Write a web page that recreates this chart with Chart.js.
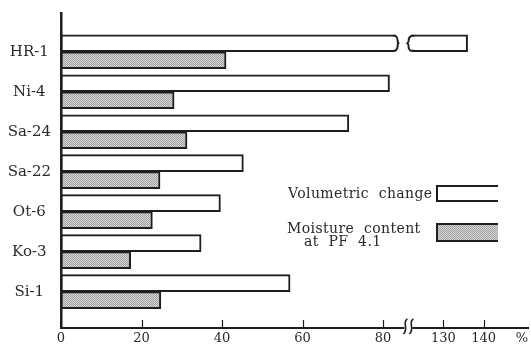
<!DOCTYPE html>
<html>
<head>
<meta charset="utf-8">
<script src="https://cdn.jsdelivr.net/npm/chart.js@4/dist/chart.umd.min.js"></script>
<style>
html, body { margin: 0; background: #fff; }
</style>
</head>
<body>
<canvas id="chart" width="531" height="346"></canvas>
<script>
// data (percent)
const soils = ["HR-1", "Ni-4", "Sa-24", "Sa-22", "Ot-6", "Ko-3", "Si-1"];
const volumetricChange = [136, 81.6, 71.5, 45.3, 39.6, 34.8, 56.9];
const moistureContent = [41, 28.1, 31.3, 24.6, 22.7, 17.3, 24.8];
const tickValues = [0, 20, 40, 60, 80, 130, 140];

// broken x axis: everything above BREAK_FROM is shifted left by BREAK_GAP
const BREAK_FROM = 86;
const BREAK_GAP = 35;
const toAxis = v => (v > BREAK_FROM ? v - BREAK_GAP : v);

const ink = "#1e1e1e";
const textColor = "#2a2a2a";
const serif = "'DejaVu Serif', 'Liberation Serif', serif";

const canvas = document.getElementById("chart");
const ctx = canvas.getContext("2d");

// grey stipple used for moisture bars
function makeStipple() {
    const p = document.createElement("canvas");
    p.width = 2; p.height = 2;
    const g = p.getContext("2d");
    g.fillStyle = "#d4d4d4";
    g.fillRect(0, 0, 2, 2);
    g.fillStyle = "#a4a4a4";
    g.fillRect(0, 0, 1, 1);
    g.fillRect(1, 1, 1, 1);
    return ctx.createPattern(p, "repeat");
}
const stipple = makeStipple();

const decor = {
    id: "decor",
    afterDraw(chart) {
        const c = chart.ctx;
        const xs = chart.scales.x;
        const area = chart.chartArea;
        const axisY = area.bottom;
        c.save();
        c.strokeStyle = ink;
        c.fillStyle = textColor;

        // short tick marks pointing up from the axis
        c.lineWidth = 1.2;
        tickValues.forEach(v => {
            if (v === 0) return;
            const px = Math.round(xs.getPixelForValue(toAxis(v))) + 0.5;
            c.beginPath();
            c.moveTo(px, axisY - 8);
            c.lineTo(px, axisY);
            c.stroke();
        });

        // break in the HR-1 volumetric bar
        const bar = chart.getDatasetMeta(0).data[0];
        const top = bar.y - bar.height / 2 + 1;
        const bot = bar.y + bar.height / 2 - 1;
        const mid = bar.y;
        const bx = xs.getPixelForValue(84.8);
        c.fillStyle = "#fff";
        c.fillRect(bx - 8, top - 2, 18, bot - top + 4);
        c.lineWidth = 2;
        c.beginPath();
        c.moveTo(bx - 9, top);
        c.lineTo(bx - 7, top);
        c.bezierCurveTo(bx - 3, top + 3, bx - 6, mid - 2, bx - 4, mid);
        c.bezierCurveTo(bx - 6, mid + 2, bx - 3, bot - 3, bx - 7, bot);
        c.lineTo(bx - 9, bot);
        c.stroke();
        c.beginPath();
        c.moveTo(bx + 12, top);
        c.lineTo(bx + 9, top);
        c.bezierCurveTo(bx + 4, top + 3, bx + 8, mid - 2, bx + 5, mid);
        c.bezierCurveTo(bx + 8, mid + 2, bx + 4, bot - 3, bx + 8, bot);
        c.lineTo(bx + 12, bot);
        c.stroke();

        // break on the x axis
        const ax = xs.getPixelForValue(86.3);
        c.fillStyle = "#fff";
        c.fillRect(ax - 4, axisY - 3, 8, 6);
        c.lineWidth = 1.6;
        [-3, 3].forEach(dx => {
            const x = ax + dx;
            c.beginPath();
            c.moveTo(x + 2, axisY - 9);
            c.bezierCurveTo(x - 4, axisY - 6, x + 4, axisY + 1, x - 2, axisY + 6);
            c.stroke();
        });

        // unit
        c.fillStyle = textColor;
        c.font = "13px " + serif;
        c.textAlign = "center";
        c.textBaseline = "middle";
        c.fillText("%", 522, 339);

        // legend
        c.textAlign = "left";
        c.textBaseline = "alphabetic";
        c.font = "14px " + serif;
        c.letterSpacing = "0.4px";
        c.fillText("Volumetric  change", 288, 198);
        c.fillText("Moisture  content", 287, 233);
        c.fillText("at  PF  4.1", 304, 246);
        c.letterSpacing = "0px";

        c.lineWidth = 2;
        c.strokeStyle = ink;
        c.beginPath();
        c.moveTo(498, 186);
        c.lineTo(437, 186);
        c.lineTo(437, 201);
        c.lineTo(498, 201);
        c.stroke();

        c.fillStyle = stipple;
        c.fillRect(437, 224, 61, 17);
        c.beginPath();
        c.moveTo(498, 224);
        c.lineTo(437, 224);
        c.lineTo(437, 241);
        c.lineTo(498, 241);
        c.stroke();
        c.restore();
    }
};

new Chart(ctx, {
    type: "bar",
    data: {
        datasets: [
            {
                label: "Volumetric change",
                data: soils.map((s, i) => ({ x: toAxis(volumetricChange[i]), y: i })),
                backgroundColor: "#fff",
                borderColor: ink,
                borderWidth: 2,
                borderSkipped: false,
                barThickness: 17
            },
            {
                label: "Moisture content at PF 4.1",
                data: soils.map((s, i) => ({ x: toAxis(moistureContent[i]), y: i })),
                backgroundColor: stipple,
                borderColor: ink,
                borderWidth: 2,
                borderSkipped: false,
                barThickness: 17
            }
        ]
    },
    options: {
        indexAxis: "y",
        responsive: false,
        animation: false,
        layout: { padding: { top: 13, right: 3, left: 0, bottom: 0 } },
        plugins: { legend: { display: false }, tooltip: { enabled: false } },
        scales: {
            x: {
                type: "linear",
                min: 0,
                max: 116,
                offset: false,
                afterFit: s => { s.height = 18; s.paddingLeft = 0; s.paddingRight = 0; },
                afterBuildTicks: s => { s.ticks = tickValues.map(v => ({ value: toAxis(v) })); },
                ticks: {
                    callback: (v, i) => tickValues[i],
                    font: { family: serif, size: 13 },
                    color: textColor,
                    padding: 3,
                    maxRotation: 0,
                    autoSkip: false
                },
                grid: { display: false, drawTicks: false },
                border: { color: ink, width: 2 }
            },
            y: {
                type: "linear",
                reverse: true,
                offset: false,
                min: -0.97,
                max: 6.91,
                afterFit: s => { s.width = 61; s.paddingTop = 0; s.paddingBottom = 0; },
                afterBuildTicks: s => { s.ticks = soils.map((n, i) => ({ value: i })); },
                ticks: {
                    callback: v => soils[v],
                    font: { family: serif, size: 15 },
                    color: textColor,
                    crossAlign: "center",
                    padding: 10,
                    autoSkip: false
                },
                grid: { display: false, drawTicks: false },
                border: { color: ink, width: 2.5 }
            }
        }
    },
    plugins: [decor]
});
</script>
</body>
</html>
